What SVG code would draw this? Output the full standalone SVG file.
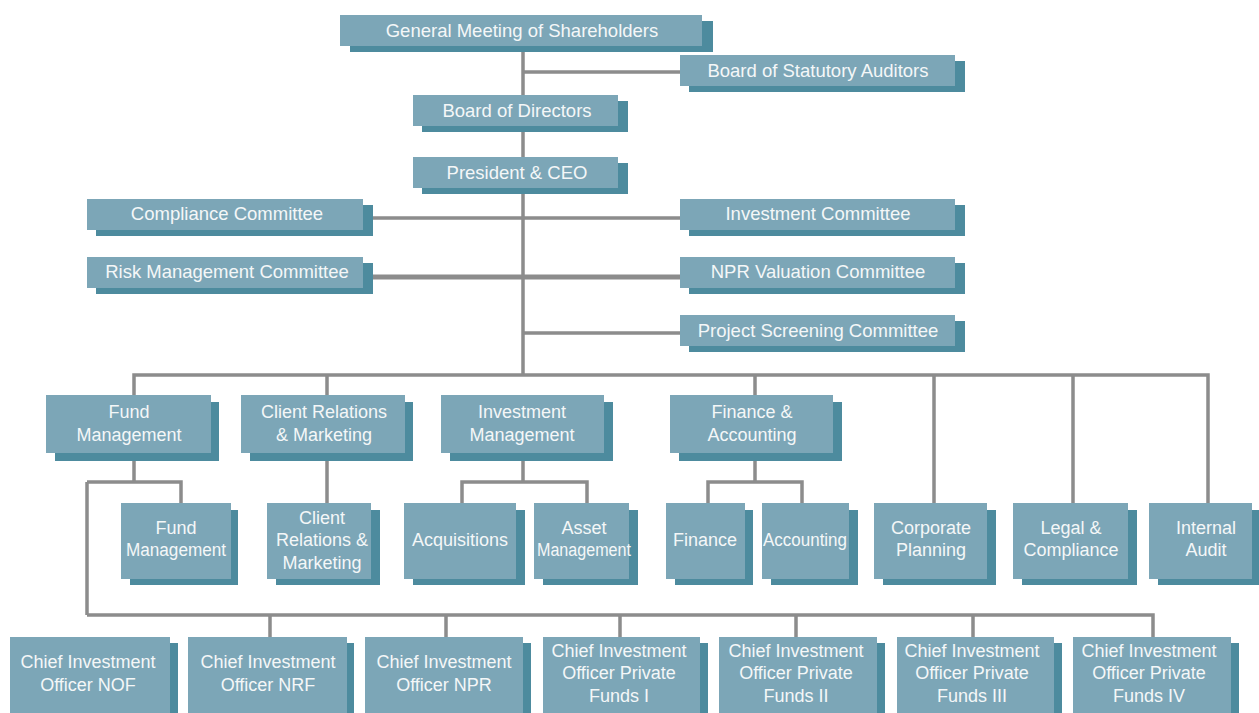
<svg xmlns="http://www.w3.org/2000/svg" width="1259" height="713" viewBox="0 0 1259 713">
<style>
.sh{fill:#4d8b9e}
.bx{fill:#7ca6b7}
text{font-family:"Liberation Sans",Arial,sans-serif;font-size:18px;fill:#f4f7f8;text-anchor:middle}
.t1{font-size:18.5px}
.ln{stroke:#8c8c8c;stroke-width:3.5;fill:none}
</style>
<rect width="1259" height="713" fill="#ffffff"/>
<g id="connectors">
<path class="ln" d="M523,46V375M523,72H680M363,218H680M523,333H680"/>
<path class="ln" style="stroke-width:5" d="M363,277H680"/>
<path class="ln" d="M134,395V375H1208V503M327,375V395M755,375V395M934,375V503M1073,375V503"/>
<path class="ln" d="M134,453V482M87,482H181V503M87,482V615M327,453V503M523,453V482M462,503V482H587V503M755,453V482M708,503V482H802V503"/>
<path class="ln" d="M87,615H1153V637M270,615V637M446,615V637M620,615V637M796,615V637M973,615V637"/>
</g>
<g id="n-gms"><rect class="sh" x="350" y="21" width="363" height="31"/><rect class="bx" x="340" y="15" width="362" height="31"/><text class="t1" x="522" y="37">General Meeting of Shareholders</text></g>
<g id="n-bsa"><rect class="sh" x="689" y="61" width="276" height="31"/><rect class="bx" x="680" y="55" width="275" height="31"/><text class="t1" x="818" y="77">Board of Statutory Auditors</text></g>
<g id="n-bod"><rect class="sh" x="422" y="101" width="206" height="31"/><rect class="bx" x="413" y="95" width="205" height="31"/><text class="t1" x="517" y="117">Board of Directors</text></g>
<g id="n-ceo"><rect class="sh" x="422" y="163" width="206" height="31"/><rect class="bx" x="413" y="157" width="205" height="31"/><text class="t1" x="517" y="179">President &amp; CEO</text></g>
<g id="n-cc"><rect class="sh" x="96" y="205" width="277" height="31"/><rect class="bx" x="87" y="199" width="276" height="31"/><text class="t1" x="227" y="220">Compliance Committee</text></g>
<g id="n-ic"><rect class="sh" x="689" y="205" width="276" height="31"/><rect class="bx" x="680" y="199" width="275" height="31"/><text class="t1" x="818" y="220">Investment Committee</text></g>
<g id="n-rmc"><rect class="sh" x="96" y="263" width="277" height="31"/><rect class="bx" x="87" y="257" width="276" height="31"/><text class="t1" x="227" y="278">Risk Management Committee</text></g>
<g id="n-npr"><rect class="sh" x="689" y="263" width="276" height="31"/><rect class="bx" x="680" y="257" width="275" height="31"/><text class="t1" x="818" y="278">NPR Valuation Committee</text></g>
<g id="n-psc"><rect class="sh" x="689" y="321" width="276" height="31"/><rect class="bx" x="680" y="315" width="275" height="31"/><text class="t1" x="818" y="337">Project Screening Committee</text></g>

<g id="n-fm"><rect class="sh" x="55" y="402" width="164" height="59"/><rect class="bx" x="46" y="395" width="165" height="58"/><text x="129" y="418">Fund</text><text x="129" y="441">Management</text></g>
<g id="n-crm"><rect class="sh" x="250" y="402" width="163" height="59"/><rect class="bx" x="241" y="395" width="164" height="58"/><text x="324" y="418">Client Relations</text><text x="324" y="441">&amp; Marketing</text></g>
<g id="n-im"><rect class="sh" x="450" y="402" width="163" height="59"/><rect class="bx" x="441" y="395" width="163" height="58"/><text x="522" y="418">Investment</text><text x="522" y="441">Management</text></g>
<g id="n-fa"><rect class="sh" x="679" y="402" width="163" height="59"/><rect class="bx" x="670" y="395" width="163" height="58"/><text x="752" y="418">Finance &amp;</text><text x="752" y="441">Accounting</text></g>

<g id="n-fm2"><rect class="sh" x="130" y="510" width="108" height="75"/><rect class="bx" x="121" y="503" width="110" height="76"/><text x="176" y="534">Fund</text><text x="176" y="556" textLength="100" lengthAdjust="spacingAndGlyphs">Management</text></g>
<g id="n-crm2"><rect class="sh" x="276" y="510" width="104" height="75"/><rect class="bx" x="267" y="503" width="104" height="76"/><text x="322" y="524">Client</text><text x="322" y="546">Relations &amp;</text><text x="322" y="569">Marketing</text></g>
<g id="n-acq"><rect class="sh" x="413" y="510" width="112" height="75"/><rect class="bx" x="404" y="503" width="112" height="76"/><text x="460" y="546">Acquisitions</text></g>
<g id="n-am"><rect class="sh" x="543" y="510" width="95" height="75"/><rect class="bx" x="534" y="503" width="95" height="76"/><text x="584" y="534">Asset</text><text x="584" y="556" textLength="94" lengthAdjust="spacingAndGlyphs">Management</text></g>
<g id="n-fin"><rect class="sh" x="675" y="510" width="78" height="75"/><rect class="bx" x="666" y="503" width="79" height="76"/><text x="705" y="546">Finance</text></g>
<g id="n-acc"><rect class="sh" x="771" y="510" width="87" height="75"/><rect class="bx" x="762" y="503" width="87" height="76"/><text x="805" y="546" textLength="84" lengthAdjust="spacingAndGlyphs">Accounting</text></g>
<g id="n-cp"><rect class="sh" x="883" y="510" width="113" height="75"/><rect class="bx" x="874" y="503" width="113" height="76"/><text x="931" y="534">Corporate</text><text x="931" y="556">Planning</text></g>
<g id="n-lc"><rect class="sh" x="1022" y="510" width="115" height="75"/><rect class="bx" x="1013" y="503" width="115" height="76"/><text x="1071" y="534">Legal &amp;</text><text x="1071" y="556">Compliance</text></g>
<g id="n-ia"><rect class="sh" x="1158" y="510" width="101" height="75"/><rect class="bx" x="1149" y="503" width="103" height="76"/><text x="1206" y="534">Internal</text><text x="1206" y="556">Audit</text></g>

<g id="n-nof"><rect class="sh" x="18" y="643" width="160" height="80"/><rect class="bx" x="10" y="637" width="160" height="80"/><text x="88" y="668">Chief Investment</text><text x="88" y="691">Officer NOF</text></g>
<g id="n-nrf"><rect class="sh" x="195" y="643" width="159" height="80"/><rect class="bx" x="188" y="637" width="159" height="80"/><text x="268" y="668">Chief Investment</text><text x="268" y="691">Officer NRF</text></g>
<g id="n-nprc"><rect class="sh" x="372" y="643" width="159" height="80"/><rect class="bx" x="365" y="637" width="158" height="80"/><text x="444" y="668">Chief Investment</text><text x="444" y="691">Officer NPR</text></g>
<g id="n-pf1"><rect class="sh" x="550" y="643" width="158" height="80"/><rect class="bx" x="543" y="637" width="157" height="80"/><text x="619" y="657">Chief Investment</text><text x="619" y="679">Officer Private</text><text x="619" y="702">Funds I</text></g>
<g id="n-pf2"><rect class="sh" x="726" y="643" width="159" height="80"/><rect class="bx" x="719" y="637" width="158" height="80"/><text x="796" y="657">Chief Investment</text><text x="796" y="679">Officer Private</text><text x="796" y="702">Funds II</text></g>
<g id="n-pf3"><rect class="sh" x="904" y="643" width="158" height="80"/><rect class="bx" x="897" y="637" width="157" height="80"/><text x="972" y="657">Chief Investment</text><text x="972" y="679">Officer Private</text><text x="972" y="702">Funds III</text></g>
<g id="n-pf4"><rect class="sh" x="1080" y="643" width="159" height="80"/><rect class="bx" x="1073" y="637" width="158" height="80"/><text x="1149" y="657">Chief Investment</text><text x="1149" y="679">Officer Private</text><text x="1149" y="702">Funds IV</text></g>
</svg>
